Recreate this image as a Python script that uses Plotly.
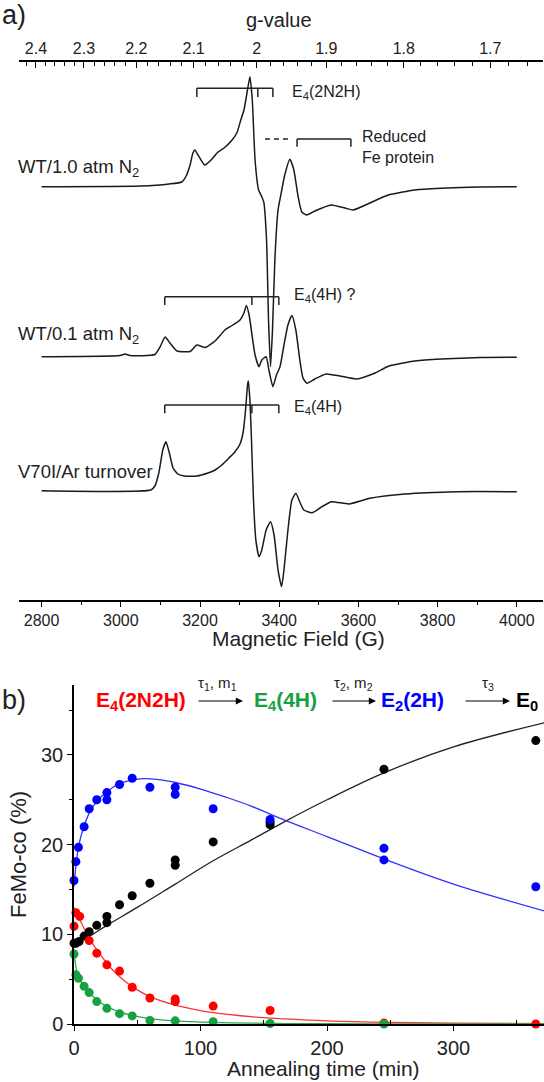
import plotly.graph_objects as go

# ---------------- Panel a: EPR spectra ----------------
# magnetic field (G) and derivative intensity (arb. units)
wt10_field = [2800, 3051, 3122, 3154, 3165, 3175, 3182, 3187, 3195, 3212, 3228, 3243, 3263, 3281,
              3293, 3303, 3311, 3319, 3326, 3332, 3339, 3348, 3354, 3361, 3368, 3373, 3378, 3383,
              3389, 3397, 3404, 3414, 3427, 3437, 3447, 3457, 3470, 3490, 3531, 3566, 3586, 3629,
              3675, 3743, 3808, 3907, 4000]
wt10_int = [0, 0.7, 2.7, 4.7, 10.7, 21.7, 33.7, 36.7, 31.7, 21.7, 26.7, 33.7, 39.4, 46.7,
            53.7, 66.7, 76.7, 94.7, 110, 86.7, 26.7, -3.3, -8.3, -15.3, -53.3, -133.3, -180, -143.3,
            -73.3, -23.3, -8.3, 11.7, 27.4, 16.7, -8.3, -25.3, -28.3, -24.3, -18.3, -21.3, -23.3, -16.3,
            -8.3, -3.3, -1.6, -0.3, 0]

wt01_field = [2800, 2998, 3011, 3023, 3086, 3099, 3112, 3124, 3142, 3175, 3192, 3213, 3238, 3263,
              3283, 3301, 3311, 3317, 3324, 3332, 3339, 3349, 3356, 3367, 3374, 3384, 3393, 3402,
              3412, 3422, 3432, 3442, 3452, 3460, 3470, 3490, 3518, 3553, 3596, 3642, 3677, 3743,
              3808, 3907, 4000]
wt01_int = [0, 1.2, 2.7, 1.2, 2.2, 9.7, 19.7, 13.7, 5.7, 5.2, 11.7, 9.2, 15.7, 26.7,
            31.7, 36.7, 43.7, 51.2, 41.7, 19.7, 1.7, -10, -3.3, 0, -13.3, -30, -18.3, -10,
            11.7, 31.7, 41.2, 26.7, -3.3, -21.3, -26.6, -22.3, -17.3, -19.3, -22.3, -16.3, -9.3, -4.3,
            -2.3, -0.8, -0.6]

v70i_field = [2800, 3076, 3086, 3096, 3106, 3114, 3122, 3132, 3144, 3160, 3192, 3220, 3238, 3255,
              3273, 3288, 3301, 3309, 3315, 3320, 3322, 3326, 3330, 3335, 3341, 3349, 3356, 3367,
              3378, 3387, 3397, 3406, 3412, 3422, 3432, 3442, 3452, 3462, 3483, 3503, 3531, 3576,
              3629, 3717, 3851, 4000]
v70i_int = [0, 0.7, 4.7, 17.7, 40.7, 49, 38.7, 22.7, 16.7, 14.7, 14.7, 17.7, 20.7, 25.7,
            32.7, 38.7, 46.7, 58.7, 80.7, 105.7, 109.7, 90.7, 50.7, -9.3, -49.3, -66, -59.3, -39.3,
            -31, -44.3, -79.3, -96, -79.3, -39.3, -9.3, -2.6, -11.3, -19.3, -22, -17.3, -11, -13.3,
            -7.6, -3.3, -1, -1]

spectra_labels = ["WT/1.0 atm N<sub>2</sub>", "WT/0.1 atm N<sub>2</sub>", "V70I/Ar turnover"]

field_ticks = [2800, 3000, 3200, 3400, 3600, 3800, 4000]
field_minor = [2900, 3100, 3300, 3500, 3700, 3900]
g_major = [2.4, 2.3, 2.2, 2.1, 2.0, 1.9, 1.8, 1.7]
g_labels = ["2.4", "2.3", "2.2", "2.1", "2", "1.9", "1.8", "1.7"]
g_minor = [2.42, 2.38, 2.36, 2.34, 2.32, 2.28, 2.26, 2.24, 2.22, 2.18, 2.16, 2.14, 2.12,
           2.08, 2.06, 2.04, 2.02, 1.98, 1.96, 1.94, 1.92, 1.88, 1.86, 1.84, 1.82,
           1.78, 1.76, 1.74, 1.72, 1.68, 1.66]
MW_FREQ_GHZ = 9.358

# ---------------- Panel b: annealing kinetics ----------------
t_red = [0, 1.5, 4.5, 12, 18, 26, 36, 46, 60, 80, 80, 110, 155, 245, 365]
p_red = [10.9, 12.4, 12.0, 9.3, 7.9, 6.6, 5.9, 4.1, 2.9, 2.8, 2.5, 2.0, 1.5, 0.1, 0.0]
t_green = [0, 1.5, 3.5, 8, 12, 18, 26, 36, 46, 60, 80, 110, 155, 245]
p_green = [7.8, 5.5, 5.1, 4.2, 3.5, 2.5, 1.75, 1.15, 0.9, 0.4, 0.35, 0.25, 0.05, 0.0]
t_blue = [0, 1.5, 3.5, 8, 12, 18, 26, 26, 36, 46, 60, 80, 80, 110, 155, 245, 245, 365]
p_blue = [16.0, 18.1, 19.7, 22.0, 24.0, 25.0, 25.0, 25.8, 26.7, 27.4, 26.4, 26.4, 25.6, 24.0,
          22.8, 19.6, 18.3, 15.3]
t_black = [0, 1.5, 4, 8, 12, 18, 26, 26, 36, 46, 60, 80, 80, 110, 155, 155, 245, 365]
p_black = [9.0, 9.0, 9.2, 9.8, 10.3, 11.0, 11.3, 12.0, 13.3, 14.3, 15.7, 17.7, 18.3, 20.3,
           22.2, 22.5, 28.4, 31.6]

fit_red_t = [0, 5, 10, 15, 20, 30, 40, 50, 60, 80, 100, 120, 150, 200, 250, 300, 372]
fit_red_p = [13.0, 11.5, 10.1, 8.9, 7.9, 6.1, 4.8, 3.8, 3.05, 2.1, 1.5, 1.1, 0.7, 0.35, 0.18, 0.1, 0.05]
fit_green_t = [0, 1, 2, 4, 6, 8, 12, 18, 26, 36, 46, 60, 80, 110, 155, 200, 250, 300, 372]
fit_green_p = [8.3, 6.9, 6.0, 5.1, 4.6, 4.2, 3.5, 2.7, 1.95, 1.35, 0.95, 0.6, 0.35, 0.18, 0.07,
               0.03, 0.01, 0.0, 0.0]
fit_blue_t = [0, 1, 2, 4, 6, 9, 13, 18, 26, 36, 46, 55, 67, 81, 100, 120, 140, 167, 200, 245, 300, 372]
fit_blue_p = [15.3, 17.0, 18.3, 20.0, 21.2, 22.5, 23.8, 24.8, 25.9, 26.8, 27.2, 27.35, 27.25, 26.9,
              26.2, 25.3, 24.3, 22.7, 20.9, 18.4, 15.6, 12.6]
fit_black_t = [0, 10, 26, 50, 80, 110, 140, 167, 200, 245, 300, 372]
fit_black_p = [9.0, 9.6, 11.0, 13.0, 15.6, 18.2, 20.5, 22.6, 25.0, 28.0, 30.9, 33.6]

RED, GREEN, BLUE, BLACK = "#ff0000", "#17a040", "#0000ff", "#000000"
FONT = "Liberation Sans, Arial, sans-serif"

fig = go.Figure()

offsets = [413.3, 243.3, 109.3]
for fld, inten, off in zip([wt10_field, wt01_field, v70i_field],
                           [wt10_int, wt01_int, v70i_int], offsets):
    fig.add_trace(go.Scatter(x=fld, y=[v + off for v in inten], mode="lines",
                             line=dict(color="#1a1a1a", width=1.5, shape="spline", smoothing=0.5),
                             xaxis="x", yaxis="y", showlegend=False, hoverinfo="skip"))
fig.add_trace(go.Scatter(x=wt10_field, y=[v + offsets[0] for v in wt10_int], mode="lines",
                         line=dict(width=0), opacity=0, xaxis="x2", yaxis="y",
                         showlegend=False, hoverinfo="skip"))

for t, p, c in [(fit_black_t, fit_black_p, "#222222"), (fit_blue_t, fit_blue_p, "#3030ff"),
                (fit_red_t, fit_red_p, "#ff3030"), (fit_green_t, fit_green_p, "#2aa84e")]:
    fig.add_trace(go.Scatter(x=t, y=p, mode="lines", line=dict(color=c, width=1.3, shape="spline"),
                             xaxis="x3", yaxis="y3", showlegend=False, hoverinfo="skip",
                             cliponaxis=False))
for t, p, c in [(t_black, p_black, BLACK), (t_blue, p_blue, BLUE),
                (t_red, p_red, RED), (t_green, p_green, GREEN)]:
    fig.add_trace(go.Scatter(x=t, y=p, mode="markers", marker=dict(color=c, size=9),
                             xaxis="x3", yaxis="y3", showlegend=False, cliponaxis=False))

W, H = 544, 1082
a_x0, a_x1 = 19.4 / W, 543 / W
a_y0, a_y1 = 1 - 600 / H, 1 - 62 / H
b_x0, b_x1 = 74 / W, 1.0
b_y0, b_y1 = 1 - 1024 / H, 1 - 685 / H
field_range = [2744, 4066]

g_fields = [714.477 * MW_FREQ_GHZ / g for g in g_major]
g_minor_fields = [714.477 * MW_FREQ_GHZ / g for g in g_minor]

def axis_common(size):
    return dict(showgrid=False, zeroline=False, showline=True, linecolor="black",
                linewidth=1.5, tickcolor="black", tickwidth=1.2, automargin=False,
                tickfont=dict(family=FONT, size=size, color="#222"))

fig.update_layout(
    width=W, height=H, autosize=False, margin=dict(l=0, r=0, t=0, b=0, pad=0),
    paper_bgcolor="white", plot_bgcolor="white",
    xaxis=dict(domain=[a_x0, a_x1], range=field_range, anchor="y", tickmode="array",
               tickvals=field_ticks, ticks="outside", ticklen=5,
               minor=dict(tickmode="array", tickvals=field_minor, ticks="outside", ticklen=3,
                          tickcolor="black", tickwidth=1.2),
               **axis_common(16)),
    xaxis2=dict(overlaying="x", side="top", anchor="y", range=field_range, tickmode="array",
                tickvals=g_fields, ticktext=g_labels, ticks="inside", ticklen=6,
                minor=dict(tickmode="array", tickvals=g_minor_fields, ticks="inside", ticklen=4,
                           tickcolor="black", tickwidth=1.2),
                **axis_common(16)),
    yaxis=dict(domain=[a_y0, a_y1], range=[0, 538], visible=False, anchor="x", automargin=False),
    xaxis3=dict(domain=[b_x0, b_x1], range=[0, 371.5], anchor="y3", tickmode="array",
                tickvals=[0, 100, 200, 300], ticks="outside", ticklen=5,
                minor=dict(tickmode="array", tickvals=[50, 150, 250, 350], ticks="inside",
                           ticklen=4, tickcolor="black", tickwidth=1.2),
                **axis_common(20)),
    yaxis3=dict(domain=[b_y0, b_y1], range=[0, 37.8], anchor="x3", tickmode="array",
                tickvals=[0, 10, 20, 30], ticks="outside", ticklen=5,
                minor=dict(tickmode="array", tickvals=[5, 15, 25, 35], ticks="outside",
                           ticklen=3, tickcolor="black", tickwidth=1.2),
                **axis_common(20)),
)

ann = []
def txt(text, x, y, size, xref="paper", yref="paper", xanchor="center", color="#222", **kw):
    ann.append(dict(text=text, x=x, y=y, xref=xref, yref=yref, xanchor=xanchor, yanchor="middle",
                    showarrow=False, font=dict(family=FONT, size=size, color=color), **kw))

# panel a texts
txt("a)", 0.0, 1 - 15 / H, 27, xanchor="left")
txt("g-value", 278.5 / W, 1 - 20 / H, 20)
txt("Magnetic Field (G)", 298 / W, 1 - 638 / H, 21)
label_y = [431.7, 265.0, 128.3]
for lab, ly in zip(spectra_labels, label_y):
    txt(lab, 16 / W, ly, 18.5, yref="y", xanchor="left")
txt("E<sub>4</sub>(2N2H)", 3427, 507, 16, xref="x", yref="y", xanchor="left")
txt("Reduced<br>Fe protein", 3604, 453, 16, xref="x", yref="y", xanchor="left", align="left")
txt("E<sub>4</sub>(4H) ?", 3432, 304, 16, xref="x", yref="y", xanchor="left")
txt("E<sub>4</sub>(4H)", 3432, 192, 16, xref="x", yref="y", xanchor="left")

# panel b texts
txt("b)", 0.0, 1 - 700 / H, 27, xanchor="left")
txt("FeMo-co (%)", 18 / W, 1 - 855 / H, 22, textangle=-90)
txt("Annealing time (min)", 323.5 / W, 1 - 1068 / H, 21)
yb = 1 - 701 / H
txt("<b>E<sub>4</sub>(2N2H)</b>", 141 / W, yb, 21, color=RED)
txt("<b>E<sub>4</sub>(4H)</b>", 285 / W, yb, 21, color=GREEN)
txt("<b>E<sub>2</sub>(2H)</b>", 412 / W, yb, 21, color=BLUE)
txt("<b>E<sub>0</sub></b>", 527 / W, yb, 21, color=BLACK)
yt = 1 - 683 / H
txt("τ<sub>1</sub>, m<sub>1</sub>", 217 / W, yt, 15)
txt("τ<sub>2</sub>, m<sub>2</sub>", 353 / W, yt, 15)
txt("τ<sub>3</sub>", 488 / W, yt, 15)
for x0, x1 in [(197, 243), (331, 376), (464, 510)]:
    ann.append(dict(x=x1 / W, y=yb, xref="paper", yref="paper", ax=-(x1 - x0), ay=0,
                    text="", showarrow=True, arrowhead=2, arrowsize=1.2, arrowwidth=1.2,
                    arrowcolor="black"))
fig.update_layout(annotations=ann)

shapes = []
def seg(x0, y0, x1, y1, dash="solid"):
    shapes.append(dict(type="line", xref="x", yref="y", x0=x0, y0=y0, x1=x1, y1=y1,
                       line=dict(color="#222", width=1.5, dash=dash)))
def bracket(xs, y, drop):
    seg(xs[0], y, xs[-1], y)
    for xv in xs:
        seg(xv, y, xv, y - drop)
bracket([3192, 3346, 3384], 511.7, 8.7)
bracket([3445, 3581], 461, 7.7)
seg(3364, 461, 3430, 461, dash="5px,4px")
bracket([3111, 3331, 3399], 303.3, 8.3)
bracket([3111, 3331, 3399], 195, 8.3)
fig.update_layout(shapes=shapes)

fig.write_html("out.html", config={"displayModeBar": False},
               post_script="document.body.style.margin='0px';")
